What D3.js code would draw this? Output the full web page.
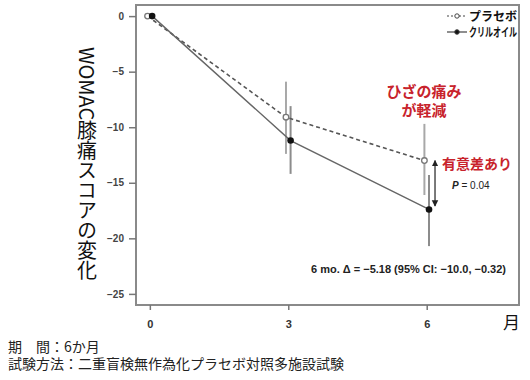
<!DOCTYPE html>
<html>
<head>
<meta charset="utf-8">
<script src="https://cdn.jsdelivr.net/npm/d3@7"></script>
<style>
  body { margin: 0; background: #fff; }
  text { font-family: "Liberation Sans", Arial, sans-serif; }
  .jp { font-family: "Noto Sans CJK JP", sans-serif; }
</style>
</head>
<body>
<div id="chart"></div>
<script>
// Data
const months = [0, 3, 6];
const placebo = [0, -9.1, -13.0];
const placeboLow = [0, -12.4, -16.1];
const placeboHigh = [0, -5.9, -9.7];
const krill = [0, -11.2, -17.4];
const krillLow = [0, -14.2, -20.7];
const krillHigh = [0, -8.1, -14.3];
const yTicks = [0, -5, -10, -15, -20, -25];
const xTicks = [0, 3, 6];

const width = 530, height = 380;
const margin = { top: 5, right: 11, bottom: 75, left: 136 };

const svg = d3.select('#chart')
    .append('svg')
    .attr('width', width)
    .attr('height', height);

const xScale = d3.scaleLinear()
    .domain([-0.3, 8])
    .range([margin.left, width - margin.right]);

const yScale = d3.scaleLinear()
    .domain([-26, 1])
    .range([height - margin.bottom, margin.top]);

// small side shift so the two groups don't overlap
const dodge = 0.05;

// frame
svg.append('rect')
    .attr('x', margin.left)
    .attr('y', margin.top)
    .attr('width', width - margin.right - margin.left)
    .attr('height', height - margin.bottom - margin.top)
    .attr('fill', 'none')
    .attr('stroke', '#8a8a8a')
    .attr('stroke-width', 2);

// y axis
const yAxis = svg.append('g')
    .attr('transform', `translate(${margin.left},0)`)
    .call(d3.axisLeft(yScale).tickValues(yTicks).tickSize(7).tickPadding(5));
yAxis.select('.domain').remove();
yAxis.selectAll('line').attr('stroke', '#777').attr('stroke-width', 1.5);
yAxis.selectAll('text')
    .style('font-size', '10px')
    .style('font-weight', 'bold')
    .attr('fill', '#444');

// x axis
const xAxis = svg.append('g')
    .attr('transform', `translate(0,${height - margin.bottom})`)
    .call(d3.axisBottom(xScale).tickValues(xTicks).tickSize(5).tickPadding(10));
xAxis.select('.domain').remove();
xAxis.selectAll('line').attr('stroke', '#777').attr('stroke-width', 1.5);
xAxis.selectAll('text')
    .style('font-size', '11px')
    .style('font-weight', 'bold')
    .attr('fill', '#333');

// error bars
function errorBars(low, high, shift, color) {
    svg.selectAll(null)
        .data(months.slice(1))
        .enter()
        .append('line')
        .attr('x1', d => xScale(d + shift))
        .attr('x2', d => xScale(d + shift))
        .attr('y1', (d, i) => yScale(high[i + 1]))
        .attr('y2', (d, i) => yScale(low[i + 1]))
        .attr('stroke', color)
        .attr('stroke-width', 2);
}
errorBars(placeboLow, placeboHigh, -dodge, '#a8a8a8');
errorBars(krillLow, krillHigh, dodge, '#8c8c8c');

// lines
const placeboLine = d3.line()
    .x(d => xScale(d[0] - dodge))
    .y(d => yScale(d[1]));
const krillLine = d3.line()
    .x(d => xScale(d[0] + dodge))
    .y(d => yScale(d[1]));

svg.append('path')
    .datum(d3.zip(months, placebo))
    .attr('d', placeboLine)
    .attr('fill', 'none')
    .attr('stroke', '#555')
    .attr('stroke-width', 1.6)
    .attr('stroke-dasharray', '4,3');

svg.append('path')
    .datum(d3.zip(months, krill))
    .attr('d', krillLine)
    .attr('fill', 'none')
    .attr('stroke', '#666')
    .attr('stroke-width', 1.4);

// points
svg.selectAll('.pl')
    .data(months)
    .enter()
    .append('circle')
    .attr('class', 'pl')
    .attr('cx', d => xScale(d - dodge))
    .attr('cy', (d, i) => yScale(placebo[i]))
    .attr('r', 2.8)
    .attr('fill', '#fff')
    .attr('stroke', '#777')
    .attr('stroke-width', 1.3);

svg.selectAll('.kr')
    .data(months)
    .enter()
    .append('circle')
    .attr('class', 'kr')
    .attr('cx', d => xScale(d + dodge))
    .attr('cy', (d, i) => yScale(krill[i]))
    .attr('r', 3.3)
    .attr('fill', '#111');

// double arrow between 6 month means
svg.append('defs').append('marker')
    .attr('id', 'head')
    .attr('viewBox', '0 0 10 10')
    .attr('refX', 9).attr('refY', 5)
    .attr('markerWidth', 5).attr('markerHeight', 6)
    .attr('orient', 'auto-start-reverse')
    .append('path')
    .attr('d', 'M0,0 L10,5 L0,10 z')
    .attr('fill', '#222');

const ax = xScale(6 + 0.18);
svg.append('line')
    .attr('x1', ax).attr('x2', ax)
    .attr('y1', yScale(placebo[2]))
    .attr('y2', yScale(krill[2] + 0.3))
    .attr('stroke', '#333')
    .attr('stroke-width', 1.3)
    .attr('marker-start', 'url(#head)')
    .attr('marker-end', 'url(#head)');

// legend
const legendItems = [
    { name: 'プラセボ', dash: '2,2', open: true, y: 16 },
    { name: 'クリルオイル', dash: null, open: false, y: 32 }
];
const legend = svg.selectAll('.legend')
    .data(legendItems)
    .enter().append('g')
    .attr('class', 'legend');
legend.append('line')
    .attr('x1', 447).attr('x2', 467)
    .attr('y1', d => d.y).attr('y2', d => d.y)
    .attr('stroke', '#444')
    .attr('stroke-width', 1.2)
    .attr('stroke-dasharray', d => d.dash);
legend.append('circle')
    .attr('cx', 457).attr('cy', d => d.y)
    .attr('r', d => d.open ? 2.2 : 2.3)
    .attr('fill', d => d.open ? '#fff' : '#111')
    .attr('stroke', '#444')
    .attr('stroke-width', 1);
legend.append('text')
    .attr('class', 'jp')
    .attr('x', 469)
    .attr('y', d => d.y + 4.5)
    .attr('textLength', 48)
    .attr('lengthAdjust', 'spacingAndGlyphs')
    .style('font-size', '12px')
    .style('font-weight', 'bold')
    .attr('fill', '#111')
    .text(d => d.name);

// red annotations
const red = '#c8232c';
svg.append('text').attr('class', 'jp')
    .attr('x', 424).attr('y', 97)
    .style('text-anchor', 'middle')
    .style('font-size', '15px').style('font-weight', 'bold')
    .attr('fill', red)
    .text('ひざの痛み');
svg.append('text').attr('class', 'jp')
    .attr('x', 424).attr('y', 116)
    .style('text-anchor', 'middle')
    .style('font-size', '15px').style('font-weight', 'bold')
    .attr('fill', red)
    .text('が軽減');
svg.append('text').attr('class', 'jp')
    .attr('x', 442).attr('y', 169)
    .style('font-size', '14px').style('font-weight', 'bold')
    .attr('fill', red)
    .text('有意差あり');

// p value
const pText = svg.append('text')
    .attr('x', 452).attr('y', 189)
    .style('font-size', '10px')
    .attr('fill', '#222');
pText.append('tspan').style('font-style', 'italic').style('font-weight', 'bold').text('P');
pText.append('tspan').text(' = 0.04');

// difference note
svg.append('text')
    .attr('x', 311).attr('y', 273)
    .style('font-size', '11px')
    .style('font-weight', 'bold')
    .attr('fill', '#222')
    .text('6 mo. Δ = −5.18 (95% CI: −10.0, −0.32)');

// y-axis label (vertical)
svg.append('text')
    .attr('class', 'jp')
    .attr('x', 87).attr('y', 47)
    .style('writing-mode', 'vertical-rl')
    .style('font-size', '20px')
    .attr('fill', '#111')
    .text('WOMAC膝痛スコアの変化');

// x unit
svg.append('text')
    .attr('class', 'jp')
    .attr('x', 503).attr('y', 329)
    .style('font-size', '17px')
    .attr('fill', '#111')
    .text('月');

// notes under the chart
svg.append('text')
    .attr('class', 'jp')
    .attr('x', 8).attr('y', 352)
    .style('font-size', '14px')
    .attr('fill', '#222')
    .text('期　間：6か月');
svg.append('text')
    .attr('class', 'jp')
    .attr('x', 8).attr('y', 369)
    .style('font-size', '14px')
    .attr('fill', '#222')
    .text('試験方法：二重盲検無作為化プラセボ対照多施設試験');
</script>
</body>
</html>
